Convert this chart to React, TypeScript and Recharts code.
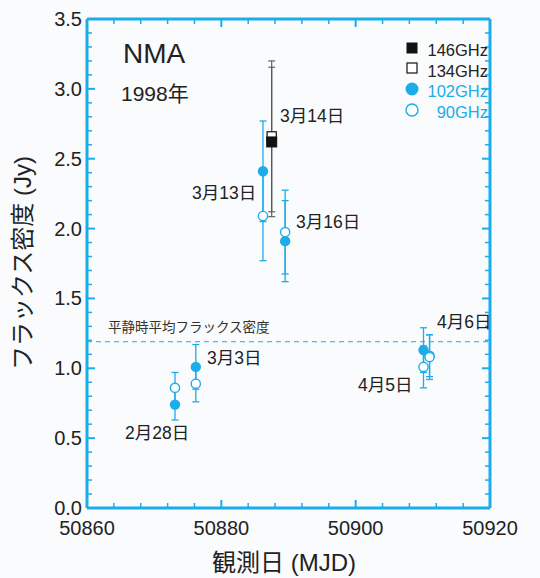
import React from "react";
import { ScatterChart, Scatter, XAxis, YAxis, ErrorBar, ReferenceLine, Label } from "recharts";

const CYAN = "#1badea";
const INK = "#222";
const FONT = "'Liberation Sans', 'Noto Sans CJK JP', sans-serif";

// axis ticks
const xMajorTicks = [50860, 50880, 50900, 50920];
const xTicks = [50860, 50864, 50868, 50872, 50876, 50880, 50884, 50888, 50892, 50896, 50900, 50904, 50908, 50912, 50916, 50920];
const yMajorTicks = ["0.0", "0.5", "1.0", "1.5", "2.0", "2.5", "3.0", "3.5"];
const yTicks = Array.from({ length: 36 }, (_, i) => i / 10);

// flux density (Jy) by observing day (MJD)
const ghz146 = [{ mjd: 50887.5, flux: 2.62, err: 0.535 }];
const ghz134 = [{ mjd: 50887.5, flux: 2.66, err: 0.54 }];
const ghz102 = [
  { mjd: 50873.1, flux: 0.74, err: 0.11 },
  { mjd: 50876.2, flux: 1.01, err: 0.16 },
  { mjd: 50886.2, flux: 2.41, err: 0.36 },
  { mjd: 50889.5, flux: 1.91, err: 0.29 },
  { mjd: 50910.1, flux: 1.13, err: 0.16 },
  { mjd: 50911.0, flux: 1.09, err: 0.15 },
];
const ghz90 = [
  { mjd: 50873.1, flux: 0.86, err: 0.11 },
  { mjd: 50876.2, flux: 0.89, err: 0.13 },
  { mjd: 50886.2, flux: 2.09, err: 0.32 },
  { mjd: 50889.5, flux: 1.975, err: 0.3 },
  { mjd: 50910.1, flux: 1.01, err: 0.15 },
  { mjd: 50911.0, flux: 1.08, err: 0.16 },
];
const quietFlux = 1.19;

const near = (v: number, step: number) => Math.abs(v / step - Math.round(v / step)) < 1e-6;

const BottomTick = ({ x, y, payload }: any) => {
  const major = xMajorTicks.includes(payload.value);
  return (
    <g>
      <line x1={x} y1={y} x2={x} y2={y - (major ? 8 : 5)} stroke={CYAN} strokeWidth={major ? 2 : 1.5} />
      {major && (
        <text x={x} y={y + 27} textAnchor="middle" fontSize={20} fill={INK} fontFamily={FONT}>
          {payload.value}
        </text>
      )}
    </g>
  );
};

const TopTick = ({ x, y, payload }: any) => {
  const major = xMajorTicks.includes(payload.value);
  return <line x1={x} y1={y} x2={x} y2={y + (major ? 8 : 5)} stroke={CYAN} strokeWidth={major ? 2 : 1.5} />;
};

const LeftTick = ({ x, y, payload }: any) => {
  const major = near(payload.value, 0.5);
  return (
    <g>
      <line x1={x} y1={y} x2={x + (major ? 8 : 5)} y2={y} stroke={CYAN} strokeWidth={major ? 2 : 1.5} />
      {major && (
        <text x={x - 5} y={y + 7} textAnchor="end" fontSize={20} fill={INK} fontFamily={FONT}>
          {yMajorTicks[Math.round(payload.value * 2)]}
        </text>
      )}
    </g>
  );
};

const RightTick = ({ x, y, payload }: any) => {
  const major = near(payload.value, 0.5);
  return <line x1={x} y1={y} x2={x - (major ? 8 : 5)} y2={y} stroke={CYAN} strokeWidth={major ? 2 : 1.5} />;
};

const filledCircle = (p: any) => <circle cx={p.cx} cy={p.cy} r={5.2} fill={CYAN} />;
const openCircle = (p: any) => <circle cx={p.cx} cy={p.cy} r={4.6} fill="#fff" stroke={CYAN} strokeWidth={1.4} />;
const filledSquare = (p: any) => <rect x={p.cx - 5} y={p.cy - 5} width={10} height={10} fill="#111" stroke="#111" />;
const openSquare = (p: any) => <rect x={p.cx - 4.6} y={p.cy - 4.6} width={9.2} height={9.2} fill="#fff" stroke="#222" strokeWidth={1.3} />;
const noMark = () => <g />;

const axisLine = { stroke: CYAN, strokeWidth: 3 };

const Txt = ({ left, top, size, color = INK, children }: any) => (
  <div style={{ position: "absolute", left, top, fontSize: size, lineHeight: 1, color, whiteSpace: "nowrap", fontFamily: FONT }}>
    {children}
  </div>
);

export default function App() {
  return (
    <div style={{ position: "absolute", left: 0, top: 0, width: 540, height: 578, background: "#fafbfc", overflow: "hidden" }}>
      <ScatterChart width={540} height={578} margin={{ top: 18, right: 49, bottom: 0, left: 0 }}>
        <XAxis
          xAxisId={0}
          dataKey="mjd"
          type="number"
          domain={[50860, 50920]}
          ticks={xTicks}
          interval={0}
          height={70}
          tickSize={0}
          tickMargin={0}
          tickLine={false}
          axisLine={axisLine}
          tick={(p: any) => <BottomTick {...p} />}
          allowDataOverflow
        >
          <Label
            content={() => (
              <text x={284} y={571} textAnchor="middle" fontSize={24} fill={INK} fontFamily={FONT}>
                観測日 (MJD)
              </text>
            )}
          />
        </XAxis>
        <XAxis
          xAxisId="top"
          orientation="top"
          dataKey="mjd"
          type="number"
          domain={[50860, 50920]}
          ticks={xTicks}
          interval={0}
          height={1}
          tickSize={0}
          tickMargin={0}
          tickLine={false}
          axisLine={axisLine}
          tick={(p: any) => <TopTick {...p} />}
          allowDataOverflow
        />
        <YAxis
          yAxisId={0}
          dataKey="flux"
          type="number"
          domain={[0, 3.5]}
          ticks={yTicks}
          interval={0}
          width={87}
          tickSize={0}
          tickMargin={0}
          tickLine={false}
          axisLine={axisLine}
          tick={(p: any) => <LeftTick {...p} />}
          allowDataOverflow
        >
          <Label
            content={() => (
              <text x={31} y={263} textAnchor="middle" fontSize={24} fill={INK} fontFamily={FONT} transform="rotate(-90, 31, 263)">
                フラックス密度 (Jy)
              </text>
            )}
          />
        </YAxis>
        <YAxis
          yAxisId="right"
          orientation="right"
          dataKey="flux"
          type="number"
          domain={[0, 3.5]}
          ticks={yTicks}
          interval={0}
          width={1}
          tickSize={0}
          tickMargin={0}
          tickLine={false}
          axisLine={axisLine}
          tick={(p: any) => <RightTick {...p} />}
          allowDataOverflow
        />

        <ReferenceLine y={quietFlux} stroke={CYAN} strokeWidth={1} strokeDasharray="5 4" />

        {/* invisible series so the top and right frame axes get drawn */}
        <Scatter data={ghz90} xAxisId="top" yAxisId="right" shape={noMark} isAnimationActive={false} />

        {/* error bars first, markers on top */}
        <Scatter data={ghz102} shape={noMark} isAnimationActive={false}>
          <ErrorBar dataKey="err" direction="y" width={3.5} stroke={CYAN} strokeWidth={1.3} isAnimationActive={false} />
        </Scatter>
        <Scatter data={ghz90} shape={noMark} isAnimationActive={false}>
          <ErrorBar dataKey="err" direction="y" width={3.5} stroke={CYAN} strokeWidth={1.3} isAnimationActive={false} />
        </Scatter>
        <Scatter data={ghz134} shape={noMark} isAnimationActive={false}>
          <ErrorBar dataKey="err" direction="y" width={3.5} stroke="#555" strokeWidth={1.1} isAnimationActive={false} />
        </Scatter>
        <Scatter data={ghz146} shape={noMark} isAnimationActive={false}>
          <ErrorBar dataKey="err" direction="y" width={3.5} stroke="#555" strokeWidth={1.1} isAnimationActive={false} />
        </Scatter>

        <Scatter data={ghz102} shape={filledCircle} isAnimationActive={false} />
        <Scatter data={ghz90} shape={openCircle} isAnimationActive={false} />
        <Scatter data={ghz134} shape={openSquare} isAnimationActive={false} />
        <Scatter data={ghz146} shape={filledSquare} isAnimationActive={false} />
      </ScatterChart>

      <Txt left={123} top={40} size={28}>NMA</Txt>
      <Txt left={121} top={83} size={21}>1998年</Txt>

      {/* legend */}
      <svg style={{ position: "absolute", left: 400, top: 36 }} width={26} height={86}>
        <rect x={6.5} y={6.5} width={11} height={11} fill="#111" />
        <rect x={7} y={27} width={10} height={10} fill="#fff" stroke="#222" strokeWidth={1.3} />
        <circle cx={12} cy={53} r={6.5} fill={CYAN} />
        <circle cx={12} cy={74} r={6} fill="#fff" stroke={CYAN} strokeWidth={1.4} />
      </svg>
      <div style={{ position: "absolute", right: 52, top: 40, fontSize: 16.5, lineHeight: "20.7px", textAlign: "right", fontFamily: FONT }}>
        <div style={{ color: INK }}>146GHz</div>
        <div style={{ color: INK }}>134GHz</div>
        <div style={{ color: CYAN }}>102GHz</div>
        <div style={{ color: CYAN }}>90GHz</div>
      </div>

      <Txt left={108} top={321} size={13.5} color="#333">平静時平均フラックス密度</Txt>

      <Txt left={280} top={108} size={17.5}>3月14日</Txt>
      <Txt left={192} top={185} size={17.5}>3月13日</Txt>
      <Txt left={296} top={214} size={17.5}>3月16日</Txt>
      <Txt left={207} top={350} size={17.5}>3月3日</Txt>
      <Txt left={125} top={425} size={17.5}>2月28日</Txt>
      <Txt left={437} top={314} size={17.5}>4月6日</Txt>
      <Txt left={358} top={377} size={17.5}>4月5日</Txt>
    </div>
  );
}
